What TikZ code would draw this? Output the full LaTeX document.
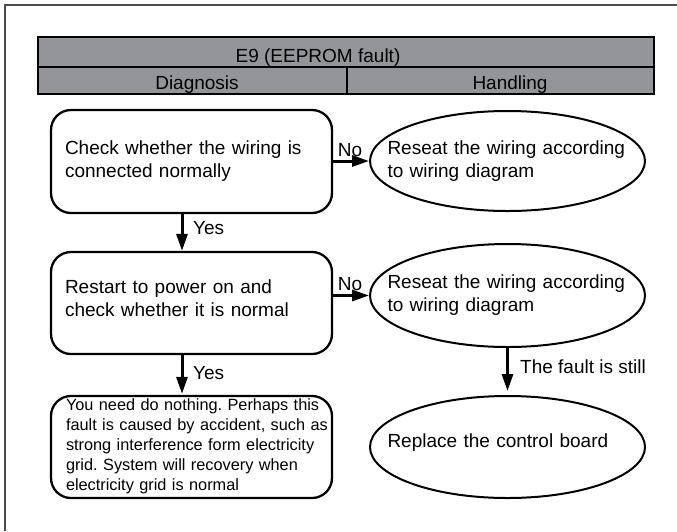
\documentclass[tikz,border=0pt]{standalone}
\usepackage{fontspec}
\setmainfont{Liberation Sans}
\usetikzlibrary{arrows.meta,shapes.geometric}
\definecolor{hdrgray}{HTML}{939598}
\definecolor{framegray}{HTML}{4D4D4D}
\begin{document}
\frenchspacing
\begin{tikzpicture}[x=1pt,y=-1pt,
  txt/.style={font=\fontsize{19}{23}\selectfont, inner sep=0pt},
  cell/.style={draw=black, line width=2.2pt, fill=hdrgray, inner sep=0pt},
  stepbox/.style={draw=black, line width=2.3pt, rounded corners=20pt, minimum width=281pt,
     text width=253pt, inner xsep=14pt, inner ysep=0pt, align=left, font=\fontsize{19}{23}\selectfont},
  oval/.style={ellipse, draw=black, line width=2pt, minimum width=275pt, inner sep=0pt},
  arr/.style={line width=3pt, -{Triangle[length=17pt,width=11pt]}}
]
\useasboundingbox (0,0) rectangle (677,531);
% frame
\draw[framegray, line width=1.5pt] (5,531) -- (5,5) -- (677,5);
% header
\node[cell, minimum width=616pt, minimum height=30pt] (hdr) at (346,52) {};
\node[cell, minimum width=309pt, minimum height=27pt] (hdiag) at (192.5,80.5) {};
\node[cell, minimum width=307pt, minimum height=27pt] (hhand) at (500.5,80.5) {};
\node[txt, anchor=base] (htitle) at (318,62) {E9 (EEPROM fault)};
\node[txt, anchor=base] (hdiagt) at (197,89) {Diagnosis};
\node[txt, anchor=base] (hhandt) at (510,89) {Handling};
% boxes
\node[stepbox, minimum height=103pt] (b1) at (191.5,161.5) {Check whether the wiring is\\connected normally};
\node[stepbox, minimum height=102pt] (b2) at (191.5,303) {};
\node[txt, text width=253pt, align=left] (b2t) at ([yshift=4.5pt]b2.center) {Restart to power on and\\check whether it is normal};
\node[stepbox, minimum height=102pt] (b3) at (191.5,447) {};
\node[txt, font=\fontsize{16.3}{20}\selectfont, text width=262pt, align=left] (b3t) at ([xshift=5.5pt,yshift=1pt]b3.center) {You need do nothing. Perhaps this\\fault is caused by accident, such as\\strong interference form electricity\\grid. System will recovery when\\electricity grid is normal};
% ellipses
\node[oval, minimum height=100pt] (e1) at (507.5,161) {};
\node[oval, minimum height=103pt] (e2) at (507.5,295.5) {};
\node[oval, minimum height=102pt] (e3) at (507.5,447) {};
\node[txt, text width=240pt, align=left] (e1t) at (e1) {Reseat the wiring according\\to wiring diagram};
\node[txt, text width=240pt, align=left] (e2t) at (e2) {Reseat the wiring according\\to wiring diagram};
\node[txt, text width=240pt, align=left] (e3t) at ([yshift=4pt]e3.center) {Replace the control board};
% connectors
\draw[arr] ([xshift=-9.5pt]b1.south) -- ([xshift=-9.5pt]b2.north);
\draw[arr] ([xshift=-9.5pt]b2.south) -- ([xshift=-9.5pt,yshift=1pt]b3.north);
\draw[arr] (e1.west -| b1.east) -- (e1.west);
\draw[arr] (e2.west -| b2.east) -- (e2.west);
\draw[arr, shorten >=4pt] (e2.south) -- (e3.north);
% labels
\node[txt, anchor=west] (y1) at (193,228) {Yes};
\node[txt, anchor=west] (y2) at (193,373) {Yes};
\node[txt] (n1) at (350,150) {No};
\node[txt] (n2) at (350,284) {No};
\node[txt, anchor=west] (fs) at (520,367) {The fault is still};
\end{tikzpicture}
\end{document}
